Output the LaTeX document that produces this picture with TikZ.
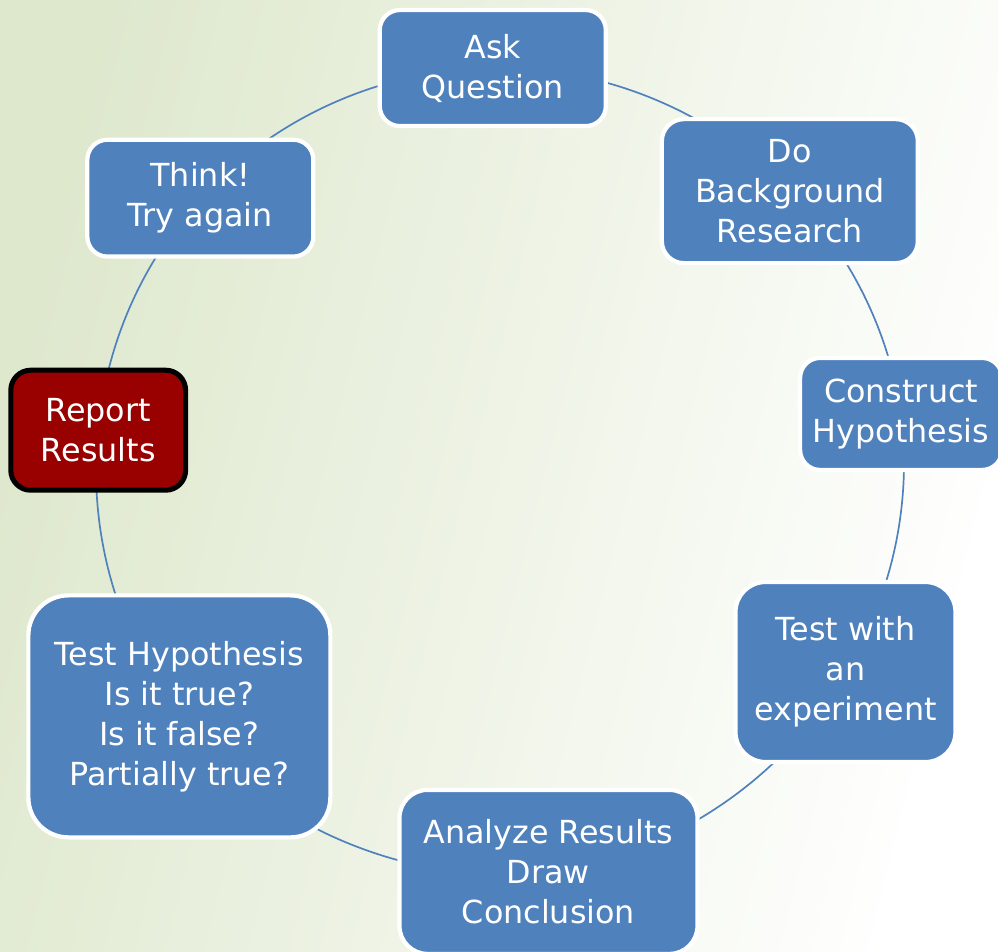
\documentclass[tikz,border=0pt]{standalone}
\usepackage{fontspec}
\setmainfont{DejaVu Sans}
\usetikzlibrary{backgrounds}

\definecolor{stepblue}{HTML}{4F81BD}
\definecolor{reportred}{HTML}{990000}
\definecolor{paleleaf}{HTML}{DEE8CD}

\begin{document}
\begin{tikzpicture}[
        stage/.style={rectangle, rounded corners=0.5cm, draw=white, line width=3pt,
            fill=stepblue, text=white, align=center, inner sep=0pt,
            font=\fontsize{22.6}{28.45}\selectfont},
        report/.style={stage, draw=black, line width=3.6pt, fill=reportred},
        ring/.style={draw=stepblue, line width=1.2pt, looseness=0.88}]
        \useasboundingbox (-12.425,-12.025) rectangle (12.525,11.75);

        \node (ask) [stage, minimum width=5.65cm, minimum height=2.9cm] at (90.6:10.05) {Ask\\Question};
        \node (research) [stage, minimum width=6.4cm, minimum height=3.6cm, rounded corners=0.55cm] at (43.6:10.11) {Do\\Background\\Research};
        \node (construct) [stage, minimum width=5.05cm, minimum height=2.8cm] at (7.9:10.2) {Construct\\Hypothesis};
        \node (testwith) [stage, minimum width=5.5cm, minimum height=4.5cm, rounded corners=0.75cm] at (-30.1:10.07) {Test with\\an\\experiment};
        \node (analyze) [stage, minimum width=7.45cm, minimum height=4.1cm, rounded corners=0.7cm] at (-82.7:10.13) {Analyze Results\\Draw\\Conclusion};
        \node (testhyp) [stage, minimum width=7.55cm, minimum height=6.05cm, rounded corners=1cm] at (217.8:10.05) {Test Hypothesis\\Is it true?\\Is it false?\\Partially true?};
        \node (report) [report, minimum width=4.37cm, minimum height=3cm] at (174.3:10.02) {Report\\Results};
        \node (think) [stage, minimum width=5.65cm, minimum height=2.92cm] at (137.5:10.06) {Think!\\Try again};

        \begin{scope}[on background layer]
            \shade [left color=paleleaf, right color=white, shading angle=76]
                (-12.425,-12.025) rectangle (12.525,11.75);
            \path [ring]
                (ask.center) edge [bend left=23.5] (research.center)
                (research.center) edge [bend left=17.9] (construct.center)
                (construct.center) edge [bend left=19] (testwith.center)
                (testwith.center) edge [bend left=26.3] (analyze.center)
                (analyze.center) edge [bend left=29.8] (testhyp.center)
                (testhyp.center) edge [bend left=21.8] (report.center)
                (report.center) edge [bend left=18.4] (think.center)
                (think.center) edge [bend left=23.5] (ask.center)
                ;
        \end{scope}
    \end{tikzpicture}
\end{document}
